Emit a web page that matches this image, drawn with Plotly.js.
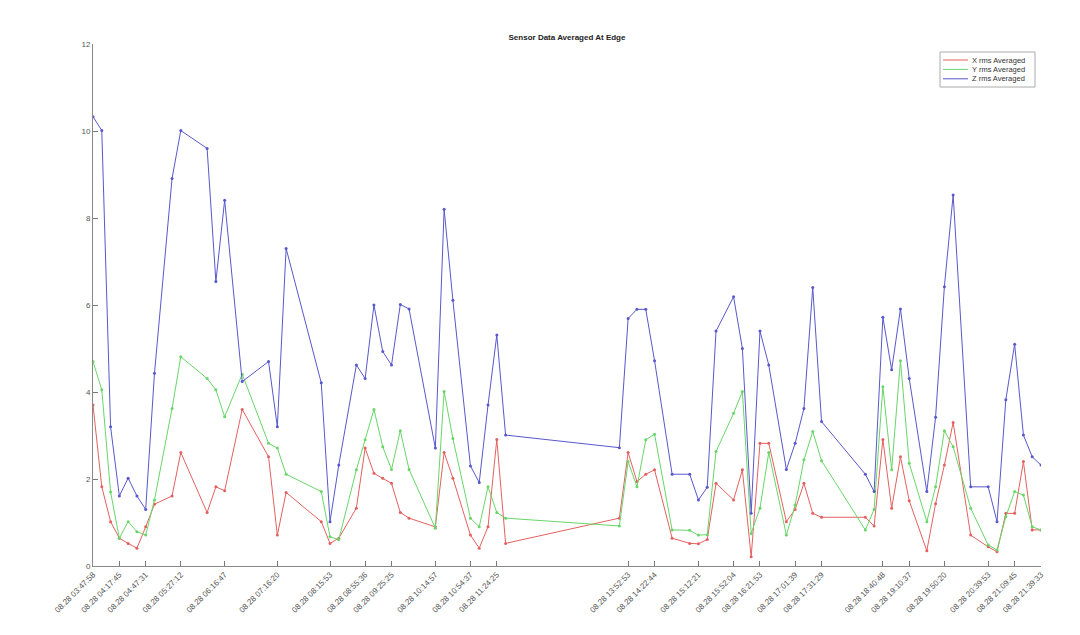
<!DOCTYPE html>
<html>
<head>
<meta charset="utf-8">
<script src="https://cdn.plot.ly/plotly-3.0.1.min.js"></script>
<style>
	html, body { margin: 0; padding: 0; background: #fff; }
	#sensor-graph { width: 1080px; height: 635px; }
</style>
</head>
<body>
<div id="sensor-graph"></div>
<script>
'use strict';

// sample times (all on 08.28), one per averaged reading
var sampleTimes = [
	'03:47:58', '03:57:54', '04:07:50', '04:17:45', '04:27:41', '04:37:37', '04:47:31', '04:57:27',
	'05:17:19', '05:27:12', '05:56:57', '06:06:52', '06:16:47', '06:36:38', '07:06:25', '07:16:20',
	'07:26:15', '08:05:58', '08:15:53', '08:25:48', '08:45:40', '08:55:36', '09:05:32', '09:15:29',
	'09:25:25', '09:35:19', '09:45:14', '10:14:57', '10:24:52', '10:34:47', '10:54:37', '11:04:33',
	'11:14:29', '11:24:25', '11:34:21', '13:42:57', '13:52:53', '14:02:50', '14:12:47', '14:22:44',
	'14:42:35', '15:02:26', '15:12:21', '15:22:17', '15:32:13', '15:52:04', '16:02:00', '16:11:56',
	'16:21:53', '16:31:50', '16:51:43', '17:01:39', '17:11:36', '17:21:32', '17:31:29', '18:21:00',
	'18:30:54', '18:40:48', '18:50:45', '19:00:41', '19:10:37', '19:30:29', '19:40:24', '19:50:20',
	'20:00:15', '20:20:04', '20:39:53', '20:49:50', '20:59:47', '21:09:45', '21:19:41', '21:29:37',
	'21:39:33'
];

var xValues = [
	3.7, 1.82, 1.02, 0.64, 0.52, 0.41, 0.90, 1.42,
	1.61, 2.61, 1.23, 1.82, 1.73, 3.60, 2.51, 0.71,
	1.69, 1.02, 0.52, 0.64, 1.33, 2.71, 2.13, 2.02,
	1.90, 1.23, 1.10, 0.90, 2.61, 2.02, 0.71, 0.41,
	0.90, 2.91, 0.52, 1.10, 2.61, 1.94, 2.11, 2.21,
	0.64, 0.52, 0.51, 0.61, 1.90, 1.52, 2.21, 0.21,
	2.82, 2.82, 1.02, 1.30, 1.90, 1.21, 1.12, 1.12,
	0.92, 2.91, 1.33, 2.51, 1.50, 0.35, 1.43, 2.32,
	3.30, 0.71, 0.44, 0.33, 1.21, 1.21, 2.40, 0.83,
	0.83
];

var yValues = [
	4.7, 4.05, 1.7, 0.64, 1.02, 0.79, 0.71, 1.52,
	3.62, 4.81, 4.31, 4.05, 3.43, 4.41, 2.82, 2.71,
	2.11, 1.71, 0.67, 0.61, 2.21, 2.9, 3.60, 2.74,
	2.22, 3.11, 2.22, 0.87, 4.01, 2.93, 1.10, 0.90,
	1.82, 1.23, 1.10, 0.92, 2.40, 1.82, 2.90, 3.03,
	0.83, 0.82, 0.71, 0.72, 2.63, 3.51, 4.01, 0.75,
	1.33, 2.61, 0.71, 1.40, 2.44, 3.09, 2.42, 0.83,
	1.30, 4.12, 2.21, 4.72, 2.36, 1.02, 1.82, 3.11,
	2.74, 1.33, 0.48, 0.37, 1.13, 1.71, 1.63, 0.90,
	0.83
];

var zValues = [
	10.33, 10.01, 3.20, 1.61, 2.02, 1.61, 1.30, 4.43,
	8.91, 10.01, 9.60, 6.54, 8.41, 4.24, 4.70, 3.20,
	7.30, 4.21, 1.02, 2.32, 4.62, 4.31, 6.00, 4.93,
	4.62, 6.01, 5.91, 2.71, 8.20, 6.11, 2.30, 1.92,
	3.70, 5.31, 3.01, 2.72, 5.69, 5.90, 5.90, 4.72,
	2.11, 2.11, 1.52, 1.81, 5.40, 6.19, 5.00, 1.21,
	5.40, 4.62, 2.22, 2.82, 3.62, 6.40, 3.32, 2.11,
	1.71, 5.72, 4.51, 5.91, 4.31, 1.71, 3.42, 6.42,
	8.53, 1.82, 1.82, 1.02, 3.82, 5.10, 3.01, 2.51,
	2.32
];

// times that carry a tick label
var tickTimes = [
	'03:47:58', '04:17:45', '04:47:31', '05:27:12', '06:16:47', '07:16:20', '08:15:53',
	'08:55:36', '09:25:25', '10:14:57', '10:54:37', '11:24:25', '13:52:53', '14:22:44',
	'15:12:21', '15:52:04', '16:21:53', '17:01:39', '17:31:29', '18:40:48', '19:10:37',
	'19:50:20', '20:39:53', '21:09:45', '21:39:33'
];

var seriesNames = ['X rms Averaged', 'Y rms Averaged', 'Z rms Averaged'];
var seriesColors = ['rgb(228,96,96)', 'rgb(104,214,104)', 'rgb(88,88,204)'];

const createSensorGraph = function () {
	var day = '2020-08-28 ';
	var xs = sampleTimes.map(function (t) { return day + t; });
	var tickVals = tickTimes.map(function (t) { return day + t; });
	var tickText = tickTimes.map(function (t) { return '08.28 ' + t; });

	var values = [xValues, yValues, zValues];
	var traces = values.map(function (v, i) {
		return {
			x: xs,
			y: v,
			name: seriesNames[i],
			type: 'scatter',
			mode: 'lines+markers',
			line: { color: seriesColors[i], width: 1 },
			marker: { color: seriesColors[i], size: 3 },
			hoverinfo: 'none',
		};
	});

	// plotly's own legend has a 19px minimum row height, too tall for this
	// compact matlab-style box, so the box is drawn with shapes + annotations
	var plotL = 93, plotR = 1041, plotT = 44, plotB = 566;
	var px = function (x) { return (x - plotL) / (plotR - plotL); };
	var py = function (y) { return (plotB - y) / (plotB - plotT); };

	var shapes = [{
		type: 'rect', xref: 'paper', yref: 'paper',
		x0: px(940), x1: px(1035), y0: py(87), y1: py(52),
		line: { color: '#aaa', width: 1 }, fillcolor: '#fff',
	}];
	var annotations = [];
	seriesNames.forEach(function (name, i) {
		var rowY = 60 + i * 9.4;
		shapes.push({
			type: 'line', xref: 'paper', yref: 'paper',
			x0: px(943), x1: px(968), y0: py(rowY), y1: py(rowY),
			line: { color: seriesColors[i], width: 1 },
		});
		annotations.push({
			xref: 'paper', yref: 'paper',
			x: px(970), y: py(rowY),
			xanchor: 'left', yanchor: 'middle',
			text: name, showarrow: false,
			font: { size: 7.5, color: '#333' },
		});
	});

	var axisFont = { family: 'Liberation Sans, Arial, sans-serif', size: 8, color: '#555' };

	var layout = {
		width: 1080,
		height: 635,
		margin: { l: 93, r: 39, t: 44, b: 69, pad: 0 },
		paper_bgcolor: '#fff',
		plot_bgcolor: '#fff',
		font: { family: 'Liberation Sans, Arial, sans-serif', size: 8, color: '#333' },
		title: {
			text: '<b>Sensor Data Averaged At Edge</b>',
			font: { size: 8, color: '#222' },
			xref: 'paper',
			x: 0.5,
			yref: 'container',
			y: 0.942,
			yanchor: 'middle',
		},
		xaxis: {
			type: 'date',
			range: [xs[0], xs[xs.length - 1]],
			tickmode: 'array',
			tickvals: tickVals,
			ticktext: tickText,
			tickangle: -45,
			ticks: 'inside',
			ticklen: 5,
			tickcolor: '#777',
			showgrid: false,
			zeroline: false,
			showline: true,
			linecolor: '#888',
			linewidth: 1,
			tickfont: axisFont,
		},
		yaxis: {
			range: [0, 12],
			dtick: 2,
			ticks: 'inside',
			ticklen: 5,
			tickcolor: '#777',
			showgrid: false,
			zeroline: false,
			showline: true,
			linecolor: '#888',
			linewidth: 1,
			tickfont: axisFont,
		},
		showlegend: false,
		shapes: shapes,
		annotations: annotations,
	};

	Plotly.newPlot('sensor-graph', traces, layout, { staticPlot: true });
};

document.addEventListener('DOMContentLoaded', createSensorGraph);
</script>
</body>
</html>
